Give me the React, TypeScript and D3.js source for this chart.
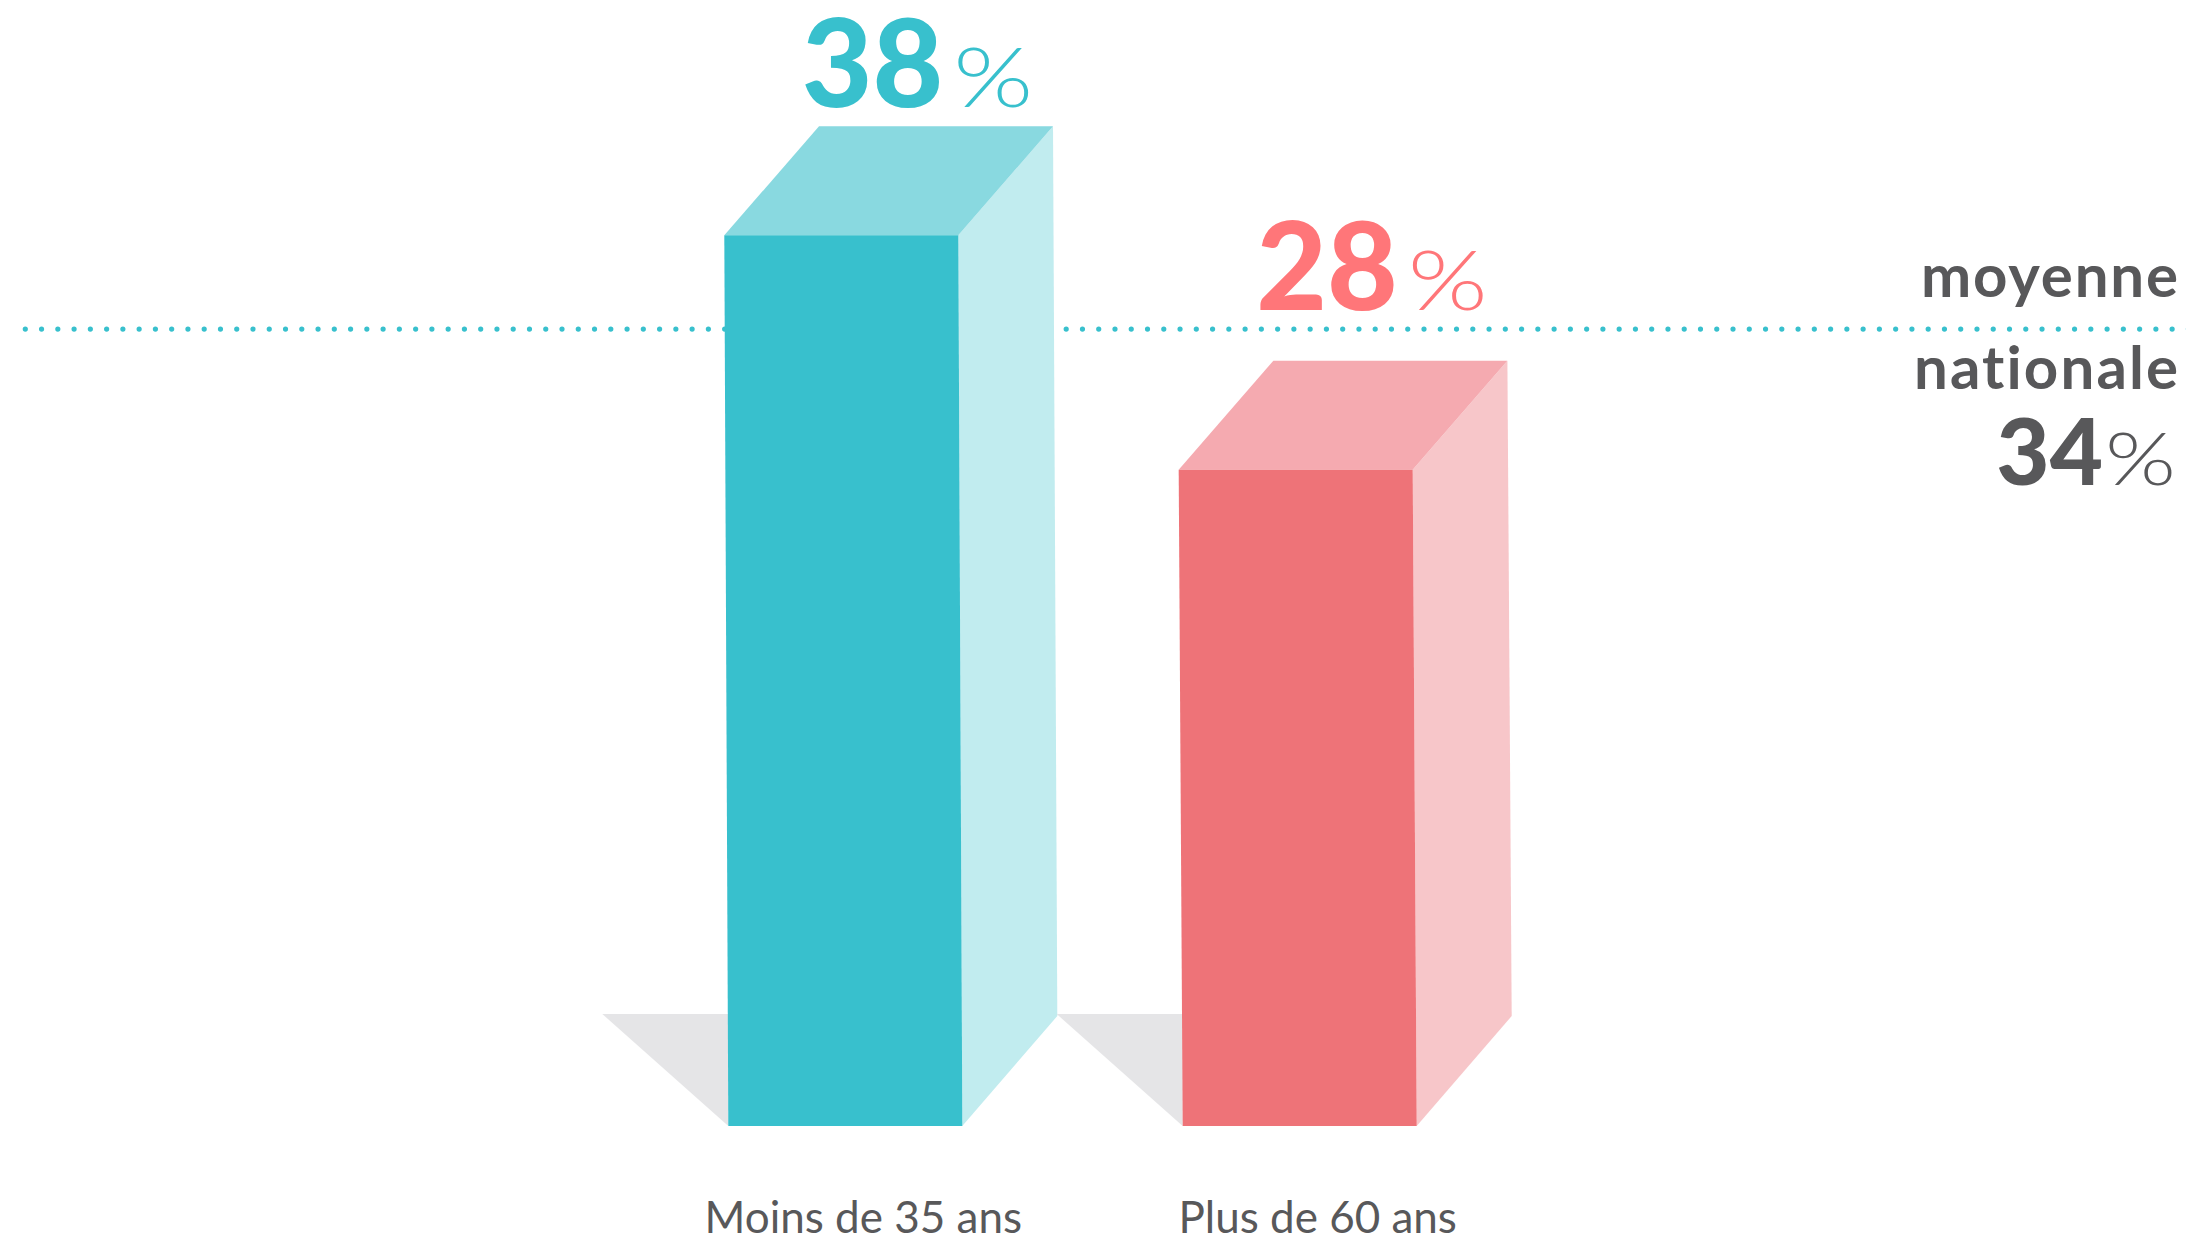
import React from "react";
import * as d3 from "d3";

// ---- data ----
const categories: string[] = ["Moins de 35 ans", "Plus de 60 ans"];
const values: number[] = [38, 28];
const nationalAverage: number = 34;
const averageLabelLines: string[] = ["moyenne", "nationale"];
const percentSign = "%";

// ---- styles ----
const frontColors = ["#38C0CD", "#EE7378"];
const topColors = ["#89D9E0", "#F5AAB0"];
const sideColors = ["#C1ECEF", "#F7C6C9"];
const labelColors = ["#38C0CD", "#FF7679"];
const shadowColor = "#E5E5E7";
const grey = "#58585A";
const dotColor = "#38C0CD";
const FONT = "Lato, 'Noto Sans', sans-serif";
const noLig: React.CSSProperties = { fontVariantLigatures: "none", fontFeatureSettings: "'liga' 0, 'clig' 0" };

const W = 2186;
const H = 1239;
const BASE = 1126;
const DEPTH_X = 94.7;
const DEPTH_Y = 109;
const SKEW = 4;

export default function App() {
  const x = d3
    .scaleBand<string>()
    .domain(categories)
    .range([728.3, 1416.7])
    .paddingInner(0.485)
    .paddingOuter(0);
  const bw = x.bandwidth();
  const y = d3.scaleLinear().domain([0, 38]).range([BASE, BASE - 38 * 23.44]);
  const avgY = y(nationalAverage);

  const poly = (pts: [number, number][]) => "M" + pts.map((p) => p.join(",")).join("L") + "Z";

  return (
    <svg
      width={W}
      height={H}
      style={{ position: "absolute", left: 0, top: 0, display: "block", background: "#fff" }}
    >
      {/* average dotted line */}
      <line
        x1={25.3}
        x2={W + 10}
        y1={avgY}
        y2={avgY}
        stroke={dotColor}
        strokeWidth={5.2}
        strokeLinecap="round"
        strokeDasharray="0 16.264"
      />
      {categories.map((c, i) => {
        const x0 = x(c)!;
        const yt = y(values[i]);
        const shadow = poly([
          [x0 - 126, 1014],
          [x0, 1014],
          [x0, BASE],
        ]);
        const front = poly([
          [x0, BASE],
          [x0 + bw, BASE],
          [x0 + bw - SKEW, yt],
          [x0 - SKEW, yt],
        ]);
        const side = poly([
          [x0 + bw - SKEW, yt],
          [x0 + bw - SKEW + DEPTH_X, yt - DEPTH_Y],
          [x0 + bw + 95, 1016],
          [x0 + bw, BASE],
        ]);
        const top = poly([
          [x0 - SKEW, yt],
          [x0 + bw - SKEW, yt],
          [x0 + bw - SKEW + DEPTH_X, yt - DEPTH_Y],
          [x0 - SKEW + DEPTH_X, yt - DEPTH_Y],
        ]);
        const labelBase = Math.min(yt - DEPTH_Y, avgY) - 19;
        return (
          <g key={c}>
            <path d={shadow} fill={shadowColor} />
            <path d={side} fill={sideColors[i]} />
            <path d={top} fill={topColors[i]} />
            <path d={front} fill={frontColors[i]} />
            <text
              x={x0 + 215}
              y={labelBase}
              textAnchor="end"
              fill={labelColors[i]}
              fontFamily={FONT}
              fontSize={122}
              fontWeight={900}
            >
              {values[i]}
            </text>
            <text
              x={x0 + 225}
              y={labelBase}
              fill={labelColors[i]}
              fontFamily={FONT}
              fontSize={83}
              fontWeight={300}
              textLength={80}
              lengthAdjust="spacingAndGlyphs"
            >
              {percentSign}
            </text>
            <text
              x={x0 + 135}
              y={1233}
              textAnchor="middle"
              fill={grey}
              fontFamily={FONT}
              fontSize={44}
              fontWeight={400}
            >
              {c}
            </text>
          </g>
        );
      })}
      {/* national average label */}
      <text
        x={2178}
        y={297.3}
        textAnchor="end"
        fill={grey}
        fontFamily={FONT}
        fontSize={60}
        fontWeight={700}
        textLength={257}
        lengthAdjust="spacing"
        style={noLig}
      >
        {averageLabelLines[0]}
      </text>
      <text
        x={2178}
        y={389.3}
        textAnchor="end"
        fill={grey}
        fontFamily={FONT}
        fontSize={60}
        fontWeight={700}
        textLength={264}
        lengthAdjust="spacing"
        style={noLig}
      >
        {averageLabelLines[1]}
      </text>
      <text x={2103} y={485} textAnchor="end" fill={grey} fontFamily={FONT} fontSize={92} fontWeight={900}>
        {nationalAverage}
      </text>
      <text
        x={2105}
        y={485}
        fill={grey}
        fontFamily={FONT}
        fontSize={72}
        fontWeight={300}
        textLength={71}
        lengthAdjust="spacingAndGlyphs"
      >
        {percentSign}
      </text>
    </svg>
  );
}
